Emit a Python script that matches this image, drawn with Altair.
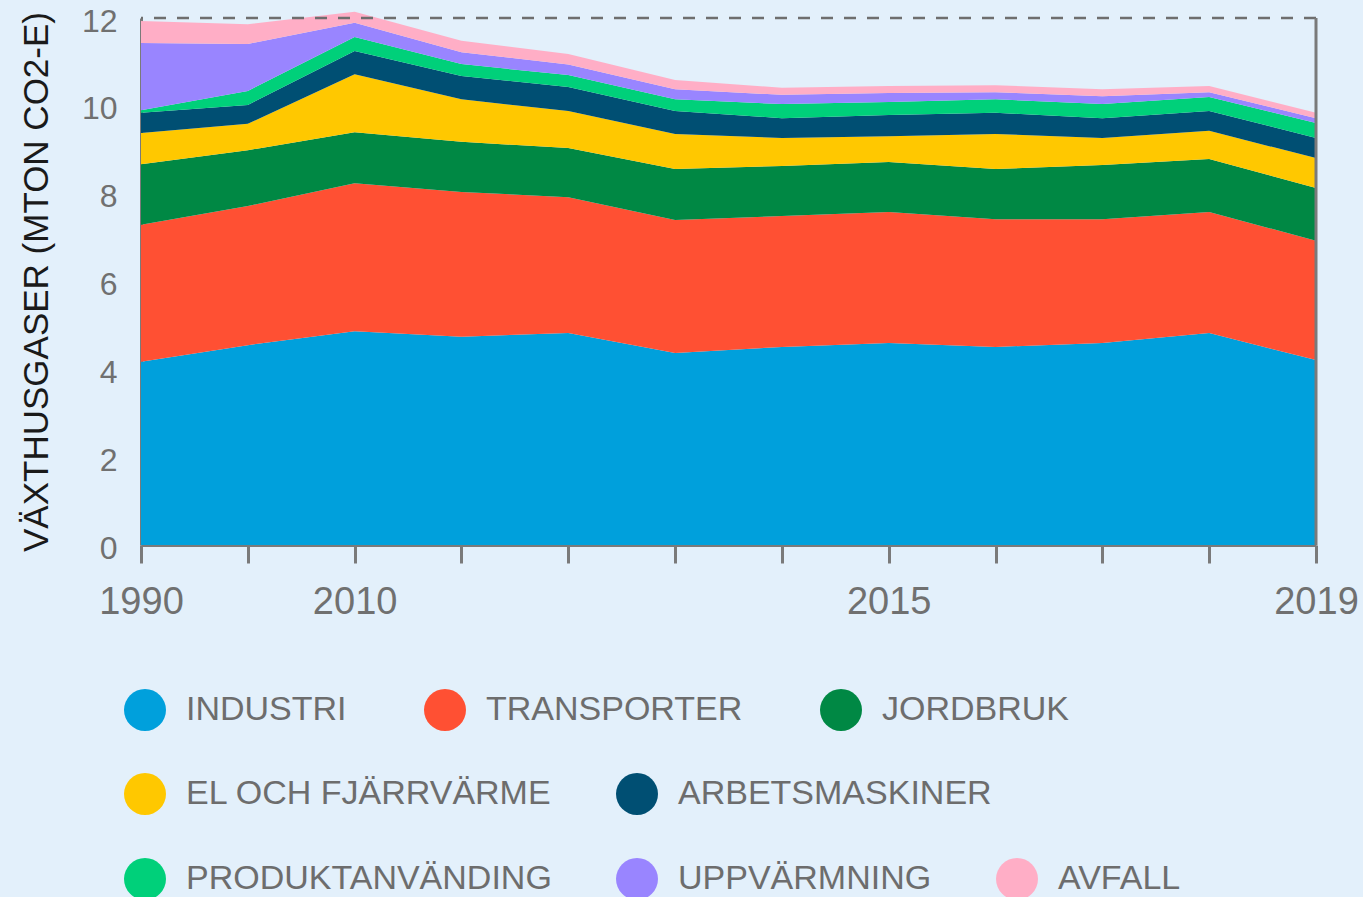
import altair as alt
import pandas as pd

years = ['1990', '2005', '2010', '2011', '2012', '2013', '2014', '2015', '2016', '2017', '2018', '2019']
shown_years = ['1990', '2010', '2015', '2019']

sectors = ['INDUSTRI', 'TRANSPORTER', 'JORDBRUK', 'EL OCH FJÄRRVÄRME', 'ARBETSMASKINER',
           'PRODUKTANVÄNDING', 'UPPVÄRMNING', 'AVFALL']
colors = ['#00A0DC', '#FF5033', '#008844', '#FFC800', '#004F73', '#00D07A', '#9985FF', '#FFAEC6']

industri = [4.17, 4.55, 4.87, 4.74, 4.83, 4.37, 4.51, 4.60, 4.51, 4.60, 4.83, 4.21]
transporter = [3.12, 3.17, 3.37, 3.30, 3.09, 3.03, 2.98, 2.98, 2.91, 2.82, 2.75, 2.72]
jordbruk = [1.38, 1.27, 1.16, 1.14, 1.12, 1.16, 1.14, 1.14, 1.14, 1.23, 1.21, 1.20]
el_fjarrvarme = [0.71, 0.60, 1.32, 0.97, 0.84, 0.80, 0.64, 0.59, 0.80, 0.62, 0.64, 0.68]
arbetsmaskiner = [0.46, 0.43, 0.53, 0.53, 0.55, 0.52, 0.45, 0.48, 0.48, 0.45, 0.45, 0.46]
produktanvanding = [0.06, 0.32, 0.32, 0.27, 0.27, 0.27, 0.32, 0.30, 0.31, 0.32, 0.32, 0.34]
uppvarmning = [1.53, 1.07, 0.32, 0.27, 0.24, 0.23, 0.21, 0.20, 0.16, 0.18, 0.11, 0.11]
avfall = [0.50, 0.45, 0.25, 0.26, 0.24, 0.21, 0.16, 0.16, 0.16, 0.16, 0.14, 0.12]

series = [industri, transporter, jordbruk, el_fjarrvarme, arbetsmaskiner,
          produktanvanding, uppvarmning, avfall]

rows = []
for i, (name, vals) in enumerate(zip(sectors, series)):
    for y, v in zip(years, vals):
        rows.append({'year': y, 'sektor': name, 'value': v, 'order': i})
df = pd.DataFrame(rows)

BG = '#E3F0FB'

legend_groups = [
    (sectors[0:3], colors[0:3], 671, 77),
    (sectors[3:5], colors[3:5], 755, 64),
    (sectors[5:8], colors[5:8], 840, 64),
]

label_expr = "indexof(" + str(shown_years) + ", datum.label) >= 0 ? datum.label : ''"

x_enc = alt.X('year:O', sort=years, title=None,
              scale=alt.Scale(type='point', padding=0),
              axis=alt.Axis(labelAngle=0, labelExpr=label_expr, labelFontSize=38,
                            labelPadding=20, tickSize=18, labelFlush=False))
y_enc = alt.Y('y1:Q', title='VÄXTHUSGASER (MTON CO2-E)',
              scale=alt.Scale(domain=[0, 12], nice=False),
              axis=alt.Axis(values=[0, 2, 4, 6, 8, 10, 12], ticks=False, grid=False,
                            labelFontSize=32, labelPadding=24, labelOffset=3,
                            titlePadding=27))

base = alt.Chart(df).transform_stack(
    stack='value', groupby=['year'], as_=['y0', 'y1'],
    sort=[alt.SortField('order', order='ascending')]
)

layers = []
for names, cols, ly, pad in legend_groups:
    layer = base.transform_filter(
        alt.FieldOneOfPredicate(field='sektor', oneOf=names)
    ).mark_area(opacity=1).encode(
        x=x_enc,
        y=y_enc,
        y2='y0:Q',
        order=alt.Order('order:Q'),
        color=alt.Color('sektor:N',
                        scale=alt.Scale(domain=names, range=cols),
                        legend=alt.Legend(orient='none', legendX=-17, legendY=ly,
                                          direction='horizontal', title=None,
                                          symbolType='circle', symbolSize=1764,
                                          symbolStrokeWidth=0, symbolOpacity=1,
                                          labelFont='Liberation Sans', labelFontSize=34,
                                          labelColor='#6d6d6d', labelOffset=20,
                                          columnPadding=pad, padding=0,
                                          labelLimit=600))
    )
    layers.append(layer)

top_line = alt.Chart(pd.DataFrame({'v': [12]})).mark_rule(
    color='#6e6e6e', strokeWidth=2.5, strokeDash=[12, 11]
).encode(y=alt.Y('v:Q'))

right_line = alt.Chart(pd.DataFrame({'year': ['2019']})).mark_rule(
    color='#7a7a7a', strokeWidth=3
).encode(x=alt.X('year:O', sort=years))

chart = alt.layer(*layers, top_line, right_line).resolve_scale(
    color='independent'
).resolve_legend(color='independent').properties(
    width=1175, height=527,
    autosize=alt.AutoSizeParams(type='none'),
    padding={'left': 141, 'top': 18, 'right': 47, 'bottom': 352},
    background=BG
).configure_view(strokeWidth=0).configure_axis(
    labelFont='Liberation Sans', labelColor='#707070',
    titleFont='Liberation Sans', titleFontSize=35, titleFontWeight='normal',
    titleColor='#1a1a1a',
    domainColor='#7a7a7a', domainWidth=3, tickColor='#7a7a7a', tickWidth=3
)


class BodyStyledTemplate:
    """Wraps altair's standard HTML template so the page shares the chart background."""
    def __init__(self, inner):
        self.inner = inner

    def render(self, *args, **kwargs):
        html = self.inner.render(*args, **kwargs)
        return html.replace('<body>', '<body style="background:%s;margin:0">' % BG, 1)


try:
    from altair.utils.html import TEMPLATES
    tmpl = BodyStyledTemplate(TEMPLATES['standard'])
    chart.save('out.html', embed_options={'renderer': 'svg', 'actions': False}, template=tmpl)
except Exception:
    chart.save('out.html', embed_options={'renderer': 'svg', 'actions': False})
